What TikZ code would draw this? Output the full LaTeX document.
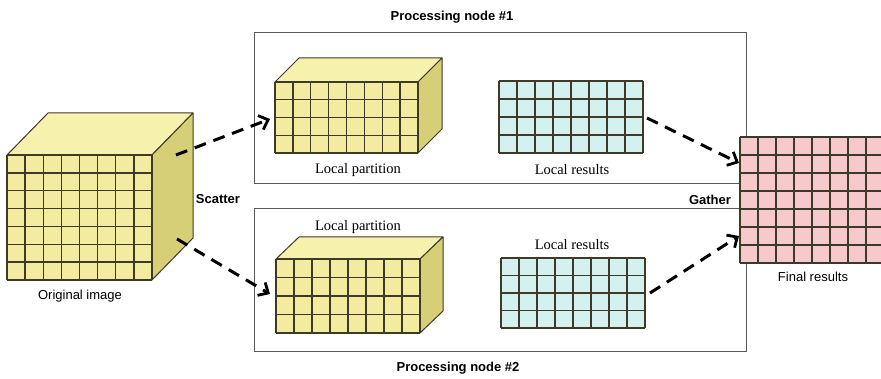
\documentclass[tikz,border=0pt]{standalone}
\usepackage{fontspec}
\setmainfont{Liberation Serif}
\setsansfont{Liberation Sans}
\usetikzlibrary{arrows.meta}
\definecolor{yfront}{RGB}{243,236,160}
\definecolor{ytop}{RGB}{246,241,172}
\definecolor{yside}{RGB}{214,207,120}
\definecolor{cyanf}{RGB}{212,241,240}
\definecolor{pinkf}{RGB}{247,200,204}
\definecolor{gridc}{RGB}{62,58,40}
\definecolor{boxc}{RGB}{90,90,90}
\tikzset{
  gridline/.style={draw=gridc, line width=1.3pt},
  procbox/.style={draw=boxc, line width=1pt, fill=none, inner sep=0pt},
  titlelbl/.style={font=\sffamily\bfseries\fontsize{13}{15}\selectfont, inner sep=0pt},
  sanslbl/.style={font=\sffamily\fontsize{13}{15}\selectfont, inner sep=0pt},
  seriflbl/.style={font=\rmfamily\fontsize{14.5}{16}\selectfont, inner sep=0pt},
  flow/.style={draw=black, line width=3pt, dash pattern=on 12pt off 8pt,
    -{Straight Barb[length=8pt,width=15pt,line width=2.8pt]}},
}
% #1 x0, #2 y0, #3 x1, #4 y1, #5 cols, #6 rows, #7 fill
\newcommand\flatgrid[7]{%
  \fill[#7] (#1,#2) rectangle (#3,#4);
  \foreach \i in {0,...,#5}{\draw[gridline] ({#1+\i*(#3-#1)/#5},#2) -- ({#1+\i*(#3-#1)/#5},#4);}
  \foreach \j in {0,...,#6}{\draw[gridline] (#1,{#2+\j*(#4-#2)/#6}) -- (#3,{#2+\j*(#4-#2)/#6});}
}
% cube: #1 x0, #2 y0, #3 x1, #4 y1, #5 cols, #6 rows, #7 dx, #8 dy
\newcommand\gridcube[8]{%
  \filldraw[fill=ytop, draw=gridc, line width=1pt, line join=round] (#1,#2) -- ({#1+#7},{#2-#8}) -- ({#3+#7},{#2-#8}) -- (#3,#2) -- cycle;
  \filldraw[fill=yside, draw=gridc, line width=1pt, line join=round] (#3,#2) -- ({#3+#7},{#2-#8}) -- ({#3+#7},{#4-#8}) -- (#3,#4) -- cycle;
  \flatgrid{#1}{#2}{#3}{#4}{#5}{#6}{yfront}
}
\begin{document}
\begin{tikzpicture}[x=1pt,y=-1pt]
\clip (0,0) rectangle (881,379);
\fill[white] (0,0) rectangle (881,379);

% processing boxes
\node[procbox, minimum width=492pt, minimum height=151pt] (p1) at (500,108.5) {};
\node[procbox, minimum width=492pt, minimum height=143pt] (p2) at (500,280.5) {};
\node[titlelbl] (t1) at (452,17) {Processing node \#1};
\node[titlelbl] (t2) at (458,368) {Processing node \#2};

% original image
\gridcube{7}{155}{152}{280}{8}{7}{41}{42}
\node[sanslbl] (orig) at (80,296) {Original image};
\node[titlelbl] (scatter) at (218,199) {Scatter};

% node 1
\gridcube{275}{82}{418}{153}{8}{4}{24}{24}
\node[seriflbl] (lp1) at (358,170) {Local partition};
\flatgrid{499}{81}{643}{153}{8}{4}{cyanf}
\node[seriflbl] (lr1) at (572,170) {Local results};

% node 2
\gridcube{276}{259}{420}{333}{8}{4}{23}{22}
\node[seriflbl] (lp2) at (358,227) {Local partition};
\flatgrid{501}{258}{645}{328}{8}{4}{cyanf}
\node[seriflbl] (lr2) at (572,245) {Local results};

% final
\flatgrid{740}{137}{884}{263}{8}{7}{pinkf}
\node[sanslbl] (fin) at (813,277) {Final results};
\node[titlelbl] (gather) at (710,200) {Gather};

% connectors
\coordinate (s1a) at (176,155);
\coordinate (s1b) at (270,119);
\coordinate (s2a) at (177,239);
\coordinate (s2b) at (270,294);
\coordinate (g1a) at (647,118);
\coordinate (g1b) at (739,163);
\coordinate (g2a) at (650,293);
\coordinate (g2b) at (739,236);
\draw[flow] (s1a) -- (s1b);
\draw[flow] (s2a) -- (s2b);
\draw[flow] (g1a) -- (g1b);
\draw[flow] (g2a) -- (g2b);
\end{tikzpicture}
\end{document}
